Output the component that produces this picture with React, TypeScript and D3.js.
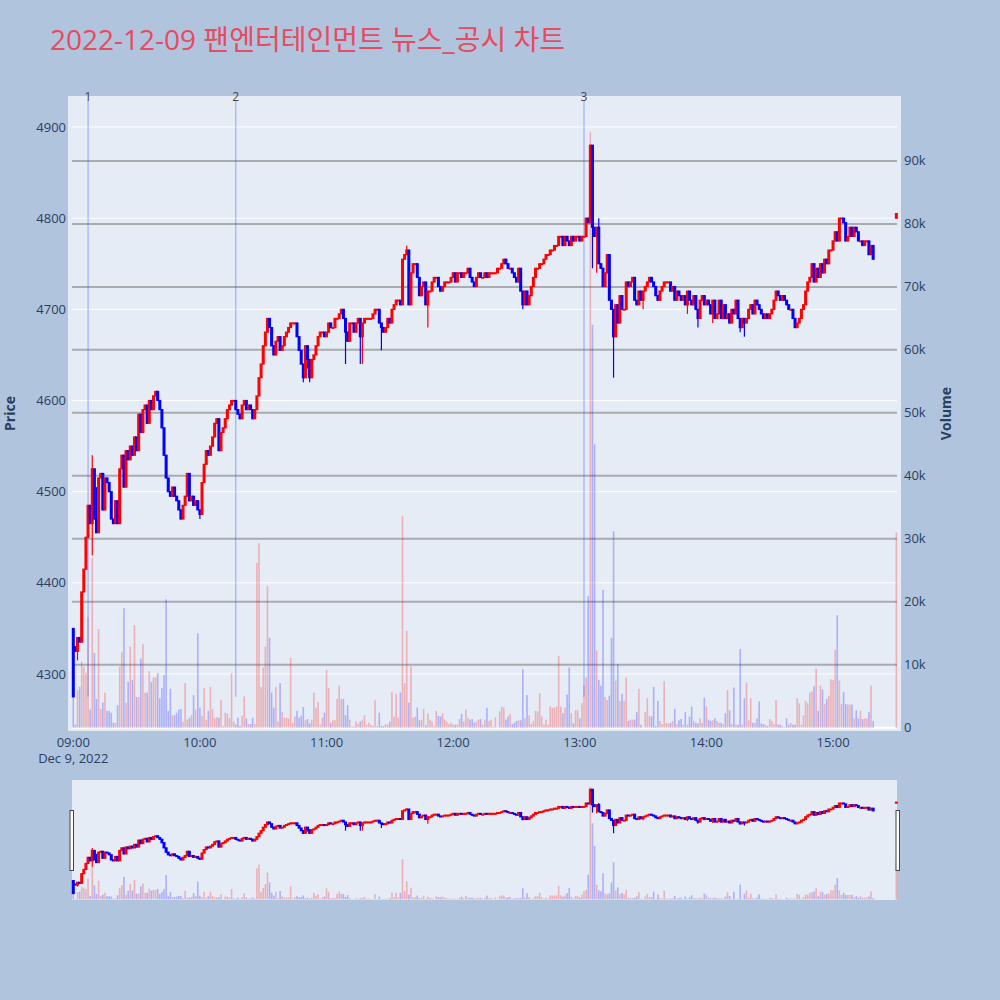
import { useEffect, useRef } from 'react'
import * as d3 from 'd3'

// 2022-12-09 one-minute candles, 09:00 .. 15:19, plus the 15:30 closing auction
const TITLE = '2022-12-09 팬엔터테인먼트 뉴스_공시 차트'

const firstOpens = [4350, 4330]

const closes = [
  4275, 4325, 4340, 4335, 4390, 4415, 4450, 4485, 4465, 4525,
  4470, 4455, 4515, 4520, 4480, 4515, 4510, 4500, 4470, 4465,
  4490, 4465, 4525, 4540, 4505, 4545, 4535, 4550, 4540, 4560,
  4545, 4585, 4565, 4590, 4595, 4575, 4600, 4590, 4605, 4610,
  4600, 4590, 4570, 4540, 4515, 4500, 4495, 4505, 4495, 4490,
  4480, 4470, 4485, 4495, 4520, 4490, 4495, 4485, 4490, 4480,
  4475, 4510, 4530, 4545, 4540, 4550, 4560, 4575, 4580, 4545,
  4565, 4570, 4580, 4590, 4595, 4600, 4600, 4590, 4585, 4580,
  4595, 4600, 4590, 4595, 4590, 4580, 4590, 4605, 4625, 4640,
  4660, 4675, 4690, 4680, 4660, 4650, 4665, 4670, 4655, 4660,
  4670, 4675, 4680, 4685, 4685, 4685, 4670, 4655, 4640, 4625,
  4660, 4645, 4625, 4645, 4650, 4660, 4670, 4675, 4675, 4670,
  4675, 4685, 4680, 4680, 4690, 4690, 4695, 4700, 4690, 4675,
  4665, 4685, 4685, 4675, 4685, 4690, 4670, 4685, 4690, 4690,
  4690, 4690, 4695, 4700, 4700, 4685, 4680, 4675, 4680, 4690,
  4685, 4700, 4705, 4710, 4710, 4705, 4755, 4760, 4765, 4705,
  4740, 4750, 4750, 4735, 4715, 4725, 4730, 4705, 4720, 4720,
  4730, 4735, 4735, 4725, 4720, 4725, 4730, 4730, 4730, 4735,
  4740, 4730, 4740, 4740, 4735, 4740, 4740, 4745, 4735, 4730,
  4725, 4735, 4740, 4735, 4735, 4740, 4735, 4740, 4740, 4740,
  4740, 4745, 4745, 4750, 4755, 4750, 4745, 4745, 4740, 4735,
  4730, 4745, 4720, 4705, 4720, 4705, 4715, 4725, 4735, 4745,
  4745, 4750, 4750, 4755, 4760, 4760, 4765, 4765, 4770, 4770,
  4780, 4780, 4770, 4780, 4775, 4770, 4780, 4775, 4780, 4780,
  4775, 4780, 4780, 4800, 4795, 4880, 4790, 4780, 4790, 4750,
  4745, 4725, 4740, 4760, 4710, 4700, 4670, 4705, 4685, 4715,
  4700, 4700, 4730, 4725, 4730, 4735, 4710, 4705, 4720, 4710,
  4720, 4725, 4730, 4735, 4730, 4725, 4715, 4710, 4720, 4725,
  4730, 4730, 4730, 4720, 4725, 4710, 4720, 4715, 4710, 4715,
  4705, 4720, 4710, 4705, 4715, 4700, 4690, 4710, 4715, 4705,
  4710, 4705, 4695, 4710, 4690, 4695, 4710, 4690, 4705, 4690,
  4695, 4685, 4700, 4695, 4710, 4690, 4680, 4690, 4685, 4690,
  4700, 4705, 4695, 4710, 4705, 4700, 4695, 4690, 4695, 4690,
  4695, 4700, 4710, 4720, 4715, 4710, 4715, 4710, 4705, 4700,
  4700, 4690, 4680, 4685, 4690, 4700, 4705, 4720, 4730, 4735,
  4750, 4730, 4745, 4735, 4750, 4740, 4755, 4750, 4765, 4765,
  4775, 4785, 4775, 4800, 4800, 4795, 4775, 4780, 4790, 4780,
  4790, 4785, 4775, 4775, 4770, 4775, 4775, 4760, 4770, 4755,
]

// wick extremes where they stick out of the body (minute index -> price)
const highWicks: Record<number, number> = { 9: 4540, 11: 4505, 158: 4770, 249: 4800 }
const lowWicks: Record<number, number> = {
  2: 4315, 9: 4430, 60: 4470, 109: 4620, 111: 4635, 112: 4620, 129: 4640,
  136: 4640, 137: 4640, 146: 4655, 168: 4680, 213: 4700, 246: 4745, 248: 4740,
  256: 4625, 270: 4700, 291: 4695, 296: 4680, 303: 4685, 316: 4675, 318: 4670, 342: 4680,
}

// volume in thousands of shares
const volumeK = [
  5, 0.5, 6, 6.5, 10.5, 9.7, 8.7, 17.5, 2.9, 27,
  11.9, 4.6, 15.7, 3, 4, 5.6, 2.7, 2.7, 2.4, 0.8,
  0.8, 3.6, 9.7, 12, 19, 4, 7.3, 12.9, 7.6, 16.3,
  4.9, 4.9, 11, 13.3, 5.6, 5.6, 9, 7.3, 8, 8,
  8.7, 4.7, 6.3, 8.4, 20.4, 2.7, 6.2, 2, 2, 2.4,
  2.9, 3, 1, 7.1, 1.3, 1.6, 2, 5.2, 2.9, 15,
  3.2, 1.9, 6.3, 1.3, 2.7, 6.5, 3, 1.6, 1.7, 1.6,
  4.4, 0.3, 2.4, 2.3, 1.6, 8.7, 1, 0.5, 1.6, 0.3,
  1.9, 5, 1.5, 0.6, 0.6, 1.6, 0.6, 26.2, 29.3, 6.5,
  9.6, 12.9, 22.5, 14.3, 5.6, 3.2, 6.5, 1, 7.1, 2.5,
  1.6, 1.6, 1.5, 11.1, 0.8, 1.8, 2.7, 1.6, 1.9, 3.3,
  1.2, 1.4, 0.7, 1.3, 5.6, 3.2, 4.1, 0.5, 1.6, 2.4,
  9.2, 6.3, 0.8, 1.2, 1.2, 4.6, 6.7, 4.6, 4.6, 2,
  3.6, 1.3, 0.2, 0.2, 1, 0.6, 1, 1.3, 2, 0.5,
  0.8, 0.5, 0.3, 4.4, 0.3, 2.4, 0.3, 0.3, 0.6, 0.5,
  1, 5.7, 1.8, 5.4, 1.6, 5.6, 33.6, 7.1, 15.4, 4,
  9.8, 1.6, 1.8, 3.2, 1.2, 1.3, 3, 0.4, 2.3, 1.3,
  1, 0.3, 2.7, 1.9, 1.8, 2.3, 1.3, 1, 0.6, 0.8,
  0.5, 0.5, 0.5, 1.4, 2.2, 1, 2.9, 1.6, 1.3, 1.4,
  0.8, 1, 1.3, 1.4, 0.5, 1.3, 3.2, 1.1, 1.3, 0.2,
  1.7, 0.1, 2.6, 3.4, 3.2, 1.3, 1.8, 2.2, 0.6, 0.8,
  1.1, 1.2, 1.2, 9.3, 1.5, 5.2, 2, 0.6, 1.1, 2.7,
  2.6, 5.5, 1.8, 0.5, 1.3, 0.5, 3.4, 3.2, 3.2, 3.4,
  11.4, 3.4, 2.3, 3.2, 5.3, 9.6, 2.3, 0.7, 2.8, 2.8,
  1.5, 3.9, 6.8, 8, 20.9, 94.6, 64, 45, 12.3, 7.6,
  6.7, 21.9, 4.9, 4.4, 5.1, 14.3, 31.2, 7.5, 10.1, 4.3,
  5.4, 4.3, 8, 1.1, 1.3, 1.3, 1.3, 2.5, 6.2, 0.5,
  0.1, 2.5, 4.7, 1.9, 1.8, 6.5, 0.3, 4.3, 1.1, 0.6,
  7.4, 0.8, 0.7, 0.8, 1.1, 3, 0.6, 1.2, 1.4, 0.5,
  2.5, 0.5, 1.8, 3.4, 1.1, 0.8, 0.7, 1.5, 0.8, 4.8,
  3.4, 1.3, 1.1, 1.2, 1.5, 1.1, 0.8, 0.8, 0.6, 2.3,
  6, 2.8, 0.6, 6.4, 0.5, 0.5, 12.5, 0.5, 4.7, 7.2,
  1.2, 4.7, 0.8, 0.8, 1.5, 4.2, 0.7, 0.6, 0.5, 0.3,
  1.4, 1.1, 0.6, 4.4, 0.5, 0.5, 0.3, 0.1, 1.5, 0.5,
  0.8, 0.5, 0.5, 4.7, 3.9, 0.5, 2, 4.3, 3.9, 5.6,
  5.8, 6.6, 9.4, 2.7, 6.7, 6.1, 3.8, 4.6, 5.1, 7.7,
  7.6, 12.4, 17.9, 7.5, 3.8, 5.7, 3.8, 3.7, 3.7, 3.7,
  1.5, 2.8, 1.5, 2.7, 1.4, 1.5, 1.5, 2.5, 6.7, 1.1,
]

const auction = { time: '15:30', open: 4800, close: 4805, volumeK: 31 }

const newsTimes = ['09:07', '10:17', '13:02']
const newsLabels = ['1', '2', '3']

const priceTicks = [4300, 4400, 4500, 4600, 4700, 4800, 4900]
const volumeTicks = [0, 10, 20, 30, 40, 50, 60, 70, 80, 90]
const timeTicks = ['09:00', '10:00', '11:00', '12:00', '13:00', '14:00', '15:00']

interface Candle {
  time: Date
  open: number
  close: number
  high: number
  low: number
  vol: number
}

const at = (hhmm: string) => {
  const [h, m] = hhmm.split(':').map(Number)
  return new Date(2022, 11, 9, h, m)
}
const minuteAfterOpen = (i: number) => new Date(at('09:00').getTime() + i * 60000)

const UP = '#ff0000'
const DOWN = '#0000ff'
const FONT = '"Open Sans", "Noto Sans CJK KR", sans-serif'

export default function App() {
  const svgRef = useRef<SVGSVGElement>(null)

  useEffect(() => {
    if (!svgRef.current) return
    const svg = d3.select(svgRef.current)
    svg.selectAll('*').remove()

    const candles: Candle[] = closes.map((c, i) => {
      const o = i < firstOpens.length ? firstOpens[i] : closes[i - 1]
      return {
        time: minuteAfterOpen(i),
        open: o,
        close: c,
        high: highWicks[i] ?? Math.max(o, c),
        low: lowWicks[i] ?? Math.min(o, c),
        vol: volumeK[i],
      }
    })
    candles.push({
      time: at(auction.time),
      open: auction.open,
      close: auction.close,
      high: auction.close,
      low: auction.open,
      vol: auction.volumeK,
    })

    const plot = { left: 68, right: 901, top: 96, bottom: 731 }
    const slider = { left: 72, right: 897, top: 780, bottom: 900 }

    const x = d3
      .scaleTime()
      .domain([new Date(at('09:00').getTime() - 2.5 * 60000), new Date(at('09:00').getTime() + 392.2 * 60000)])
      .range([plot.left, plot.right])

    const yPrice = d3.scaleLinear().domain([4237.5, 4934]).range([plot.bottom, plot.top])
    const yVol = d3.scaleLinear().domain([-0.5, 100.3]).range([plot.bottom, plot.top])
    const sPrice = d3.scaleLinear().domain([4237.5, 4934]).range([slider.bottom, slider.top])
    const sVol = d3.scaleLinear().domain([-0.5, 100.3]).range([slider.bottom, slider.top])

    // page background
    svg.append('rect').attr('width', 1000).attr('height', 1000).attr('fill', '#b0c4de')

    // title
    svg
      .append('text')
      .attr('x', 50)
      .attr('y', 50)
      .attr('font-family', FONT)
      .attr('font-size', 28)
      .attr('fill', '#e84a5f')
      .text(TITLE)

    // plot background
    svg
      .append('rect')
      .attr('x', plot.left)
      .attr('y', plot.top)
      .attr('width', plot.right - plot.left)
      .attr('height', plot.bottom - plot.top)
      .attr('fill', '#e5ecf6')

    const g = svg.append('g')

    // price grid (white)
    g.selectAll('line.pgrid')
      .data(priceTicks)
      .join('line')
      .attr('x1', 72)
      .attr('x2', 897)
      .attr('y1', (d) => yPrice(d))
      .attr('y2', (d) => yPrice(d))
      .attr('stroke', '#ffffff')
      .attr('stroke-width', 1)

    // volume grid (grey)
    g.selectAll('line.vgrid')
      .data(volumeTicks.filter((d) => d > 0))
      .join('line')
      .attr('x1', 72)
      .attr('x2', 897)
      .attr('y1', (d) => yVol(d))
      .attr('y2', (d) => yVol(d))
      .attr('stroke', 'rgba(128,128,128,0.6)')
      .attr('stroke-width', 2)

    // volume zero line
    g.append('line')
      .attr('x1', 72)
      .attr('x2', 897)
      .attr('y1', yVol(0))
      .attr('y2', yVol(0))
      .attr('stroke', '#ffffff')
      .attr('stroke-width', 2)

    const isUp = (d: Candle) => d.close >= d.open

    const drawVolume = (
      layer: d3.Selection<SVGGElement, unknown, null, undefined>,
      yv: d3.ScaleLinear<number, number>,
      w: number
    ) => {
      layer
        .selectAll('rect.vol')
        .data(candles)
        .join('rect')
        .attr('x', (d) => x(d.time) - w / 2)
        .attr('width', w)
        .attr('y', (d) => yv(d.vol))
        .attr('height', (d) => Math.max(0, yv(0) - yv(d.vol)))
        .attr('fill', (d) => (isUp(d) ? 'rgba(255,0,0,0.25)' : 'rgba(0,0,255,0.25)'))
    }

    const drawCandles = (
      layer: d3.Selection<SVGGElement, unknown, null, undefined>,
      yp: d3.ScaleLinear<number, number>
    ) => {
      layer
        .selectAll('line.wick')
        .data(candles)
        .join('line')
        .attr('x1', (d) => x(d.time))
        .attr('x2', (d) => x(d.time))
        .attr('y1', (d) => yp(d.high))
        .attr('y2', (d) => yp(d.low))
        .attr('stroke', (d) => (isUp(d) ? UP : DOWN))
        .attr('stroke-width', 1.2)
      layer
        .selectAll('rect.body')
        .data(candles)
        .join('rect')
        .attr('x', (d) => x(d.time) - 0.9)
        .attr('width', 1.8)
        .attr('y', (d) => yp(Math.max(d.open, d.close)))
        .attr('height', (d) => Math.max(0.8, yp(Math.min(d.open, d.close)) - yp(Math.max(d.open, d.close))))
        .attr('fill', (d) => (isUp(d) ? UP : DOWN))
        .attr('stroke', (d) => (isUp(d) ? UP : DOWN))
        .attr('stroke-width', 1.2)
    }

    drawVolume(g.append('g'), yVol, 1.6)

    // news markers
    const news = g.append('g')
    newsTimes.forEach((t, i) => {
      const nx = x(at(t))
      news
        .append('line')
        .attr('x1', nx)
        .attr('x2', nx)
        .attr('y1', plot.top + 4)
        .attr('y2', yPrice(4275))
        .attr('stroke', 'rgba(60,90,255,0.5)')
        .attr('stroke-width', 1)
      news
        .append('text')
        .attr('x', nx)
        .attr('y', plot.top + 5)
        .attr('text-anchor', 'middle')
        .attr('font-family', FONT)
        .attr('font-size', 12)
        .attr('fill', '#444')
        .text(newsLabels[i])
    })

    drawCandles(g.append('g'), yPrice)

    // axes labels
    const tickFont = (s: d3.Selection<SVGTextElement, any, any, any>) =>
      s.attr('font-family', FONT).attr('font-size', 13).attr('fill', '#2a3f5f')

    g.selectAll('text.ptick')
      .data(priceTicks)
      .join('text')
      .attr('x', 66)
      .attr('y', (d) => yPrice(d))
      .attr('dy', '0.35em')
      .attr('text-anchor', 'end')
      .call(tickFont)
      .text((d) => String(d))

    g.selectAll('text.vtick')
      .data(volumeTicks)
      .join('text')
      .attr('x', 904)
      .attr('y', (d) => yVol(d))
      .attr('dy', '0.35em')
      .attr('text-anchor', 'start')
      .call(tickFont)
      .text((d) => (d === 0 ? '0' : `${d}k`))

    g.selectAll('text.ttick')
      .data(timeTicks)
      .join('text')
      .attr('x', (d) => x(at(d)))
      .attr('y', 747)
      .attr('text-anchor', 'middle')
      .call(tickFont)
      .text((d) => d)

    g.append('text')
      .attr('x', x(at('09:00')))
      .attr('y', 763)
      .attr('text-anchor', 'middle')
      .call(tickFont)
      .text('Dec 9, 2022')

    g.append('text')
      .attr('transform', `translate(15, ${(plot.top + plot.bottom) / 2}) rotate(-90)`)
      .attr('text-anchor', 'middle')
      .attr('font-family', FONT)
      .attr('font-size', 14)
      .attr('font-weight', 'bold')
      .attr('fill', '#2a3f5f')
      .text('Price')

    g.append('text')
      .attr('transform', `translate(951, ${(plot.top + plot.bottom) / 2}) rotate(-90)`)
      .attr('text-anchor', 'middle')
      .attr('font-family', FONT)
      .attr('font-size', 14)
      .attr('font-weight', 'bold')
      .attr('fill', '#2a3f5f')
      .text('Volume')

    // range slider
    const rs = svg.append('g')
    rs.append('rect')
      .attr('x', slider.left)
      .attr('y', slider.top)
      .attr('width', slider.right - slider.left)
      .attr('height', slider.bottom - slider.top)
      .attr('fill', '#e5ecf6')
    drawVolume(rs.append('g'), sVol, 1.6)
    drawCandles(rs.append('g'), sPrice)
    ;[slider.left - 2, slider.right - 1].forEach((hx) => {
      rs.append('rect')
        .attr('x', hx)
        .attr('y', 810.5)
        .attr('width', 3.5)
        .attr('height', 60)
        .attr('fill', '#ffffff')
        .attr('stroke', '#444')
        .attr('stroke-width', 1)
    })
  }, [])

  return (
    <div style={{ position: 'absolute', left: 0, top: 0 }}>
      <svg ref={svgRef} width={1000} height={1000} style={{ display: 'block' }}></svg>
    </div>
  )
}
